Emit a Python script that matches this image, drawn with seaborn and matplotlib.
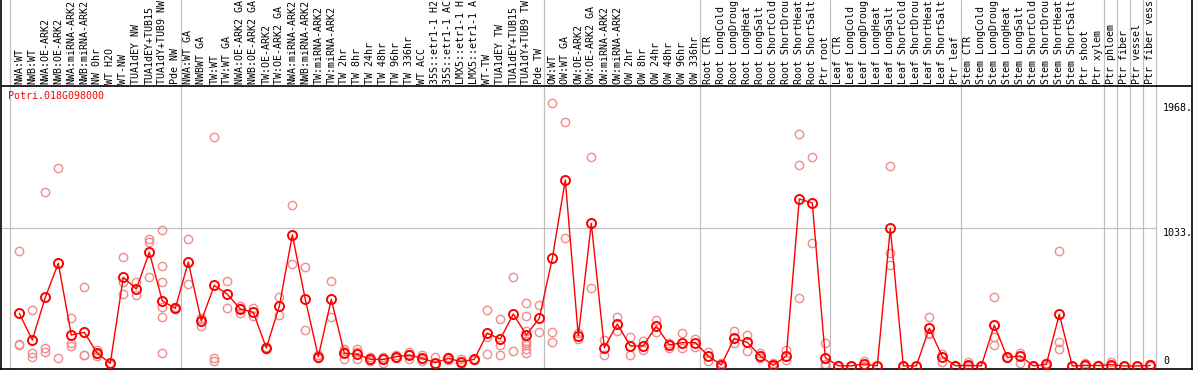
import matplotlib
matplotlib.use("Agg")
import matplotlib.pyplot as plt
import seaborn as sns
import pandas as pd

gene_id = "Potri.018G098000"

samples = [
    "NWA:WT", "NWB:WT", "NWA:OE-ARK2", "NWB:OE-ARK2", "NWA:miRNA-ARK2", "NWB:miRNA-ARK2",
    "NW 0hr", "WT H2O", "WT-NW", "TUA1dEY NW", "TUA1dEY+TUB15", "TUA1dY+TUB9 NW", "Pde NW",
    "NWA:WT GA", "NWBWT GA", "TW:WT", "TW:WT GA", "NWA:OE-ARK2 GA", "NWB:OE-ARK2 GA",
    "TW:OE-ARK2", "TW:OE-ARK2 GA", "NWA:miRNA-ARK2", "NWB:miRNA-ARK2", "TW:miRNA-ARK2",
    "TW:miRNA-ARK2", "TW 2hr", "TW 8hr", "TW 24hr", "TW 48hr", "TW 96hr", "TW 336hr",
    "WT ACC", "35S::etr1-1 H2", "35S::etr1-1 AC", "LMX5::etr1-1 H", "LMX5::etr1-1 A",
    "WT-TW", "TUA1dEY TW", "TUA1dEY+TUB15", "TUA1dY+TUB9 TW", "Pde TW",
    "OW:WT", "OW:WT GA", "OW:OE-ARK2", "OW:OE-ARK2 GA", "OW:miRNA-ARK2", "OW:miRNA-ARK2",
    "OW 2hr", "OW 8hr", "OW 24hr", "OW 48hr", "OW 96hr", "OW 336hr",
    "Root CTR", "Root LongCold", "Root LongDroug", "Root LongHeat", "Root LongSalt",
    "Root ShortCold", "Root ShortDrou", "Root ShortHeat", "Root ShortSalt", "Ptr root",
    "Leaf CTR", "Leaf LongCold", "Leaf LongDroug", "Leaf LongHeat", "Leaf LongSalt",
    "Leaf ShortCold", "Leaf ShortDrou", "Leaf ShortHeat", "Leaf ShortSalt", "Ptr leaf",
    "Stem CTR", "Stem LongCold", "Stem LongDroug", "Stem LongHeat", "Stem LongSalt",
    "Stem ShortCold", "Stem ShortDrou", "Stem ShortHeat", "Stem ShortSalt", "Ptr shoot",
    "Ptr xylem", "Ptr phloem", "Ptr fiber", "Ptr vessel", "Ptr fiber vess",
]

means = [
    394, 195, 514, 769, 232, 252, 95, 20, 664, 576, 851, 487, 432,
    778, 337, 604, 537, 427, 402, 135, 447, 981, 499, 70, 499, 95, 88, 50, 50, 70, 82,
    57, 25, 57, 32, 50, 245, 202, 389, 232, 357,
    806, 1392, 224, 1068, 137, 314, 150, 150, 299, 157, 175, 175,
    75, 8, 207, 177, 75, 5, 75, 1250, 1220, 62,
    2, 1, 15, 1, 1031, 1, 1, 282, 70, 2,
    5, 1, 305, 65, 75, 1, 12, 387, 0, 5,
    3, 10, 0, 0, 4,
]

replicates = [
    [858, 165, 157], [419, 95, 65], [1302, 137, 102], [1482, 62], [357, 175, 152],
    [589, 85, 82], [120, 88, 77], [25, 18, 17], [813, 631, 539], [626, 529],
    [950, 930, 664], [1018, 746, 626, 444, 369, 95], [440, 425],
    [948, 611], [357, 355, 299], [1714, 58, 40], [636, 432], [451, 436, 394],
    [437, 377], [140, 130], [516, 382], [1205, 766], [739, 269], [80, 60],
    [636, 364], [125, 110, 50], [125, 107, 50], [70, 45, 35], [70, 55, 25],
    [82, 70, 57], [107, 90, 50], [82, 50, 40], [65, 7, 5], [70, 57, 45],
    [50, 32, 15], [55, 45], [419, 219, 88], [352, 157, 82], [664, 112],
    [469, 377, 262, 187, 172, 157, 127, 100], [457, 252],
    [1968, 252, 180], [1826, 958], [245, 200], [1564, 581], [195, 82], [364, 262],
    [215, 82], [190, 120], [344, 257], [172, 132], [245, 132], [202, 145],
    [107, 40], [20, 2], [262, 175], [232, 115], [95, 57], [20, 0], [120, 45],
    [1737, 1505, 507], [1564, 918], [170, 16, 0],
    [5, 0], [3, 0], [40, 0], [2, 0], [1497, 843, 756], [2, 0], [2, 0],
    [364, 245, 237], [90, 32], [5, 0],
    [32, 0], [2, 0], [519, 215, 157], [70, 57], [100, 25], [2, 0], [25, 0],
    [863, 177, 125], [1, 0], [20, 0],
    [10, 0], [30, 0], [2, 0], [2, 0], [18, 0],
]

# last sample index of each group (gray separators)
group_ends = [-1, 12, 40, 52, 62, 72, 83, 84, 85, 86, 87]
tick_values = [1968, 1033, 0]
tick_labels = ["1968.", "1033.", "0"]

# pixel geometry of the original picture
W, H = 1194, 370
X0_PX, STEP_PX = 19.3, 13.0          # x pixel of first sample, spacing
ZERO_PX, PX_PER_UNIT = 366.0, 138.0 / 1033.0
LABEL_LINE_PX = 86


def px_to_val(py):
    return (ZERO_PX - py) / PX_PER_UNIT


def px_to_idx(px):
    return (px - X0_PX) / STEP_PX


sns.set_style("white")
plt.rcParams["font.family"] = ["DejaVu Sans Mono"]

pos = list(range(len(samples)))
mean_df = pd.DataFrame({"pos": pos, "value": means})
rep_rows = [(i, v) for i, reps in enumerate(replicates) for v in reps]
rep_df = pd.DataFrame(rep_rows, columns=["pos", "value"])

fig = plt.figure(figsize=(W / 100, H / 100), dpi=100)
ax = fig.add_axes([1 / W, 1 / H, 1191 / W, 369 / H])
ax.set_xlim(px_to_idx(1), px_to_idx(1192))
ax.set_ylim(px_to_val(369), px_to_val(0))

grid_col = "#c0c0c0"
for g in group_ends:
    x = g + 0.4 if g >= 0 else -0.7
    ax.axvline(x, color=grid_col, lw=0.9, zorder=1)
ax.plot([ax.get_xlim()[0], group_ends[-1] + 0.4], [tick_values[1]] * 2,
        color=grid_col, lw=0.9, zorder=1)
ax.axhline(px_to_val(LABEL_LINE_PX), color="black", lw=1.2, zorder=3)

sns.lineplot(data=rep_df, x="pos", y="value", estimator=None, linestyle="",
             marker="o", ms=6, mfc="none", mec="#f08c8c", mew=1.0, ax=ax, zorder=2)
sns.lineplot(data=mean_df, x="pos", y="value", color="red", lw=1.0,
             marker="o", ms=6.5, mfc="none", mec="red", mew=1.4, ax=ax, zorder=4)

label_y = px_to_val(LABEL_LINE_PX - 2)
for i, name in enumerate(samples):
    ax.text(i, label_y, name, rotation=90, ha="center", va="bottom",
            fontsize=7.2, color="black")

ax.text(px_to_idx(8), px_to_val(91), gene_id, color="red", fontsize=7.2,
        ha="left", va="top")

tx = px_to_idx(1163)
for v, lab in zip(tick_values, tick_labels):
    ax.text(tx, v, lab, fontsize=7.2, ha="left",
            va="bottom" if v == 0 else "top", color="black")

ax.set_xticks([])
ax.set_yticks([])
ax.set_xlabel("")
ax.set_ylabel("")
for s in ax.spines.values():
    s.set_color("black")
    s.set_linewidth(1.2)
ax.spines["top"].set_visible(False)

fig.savefig("out.png", dpi=100)
